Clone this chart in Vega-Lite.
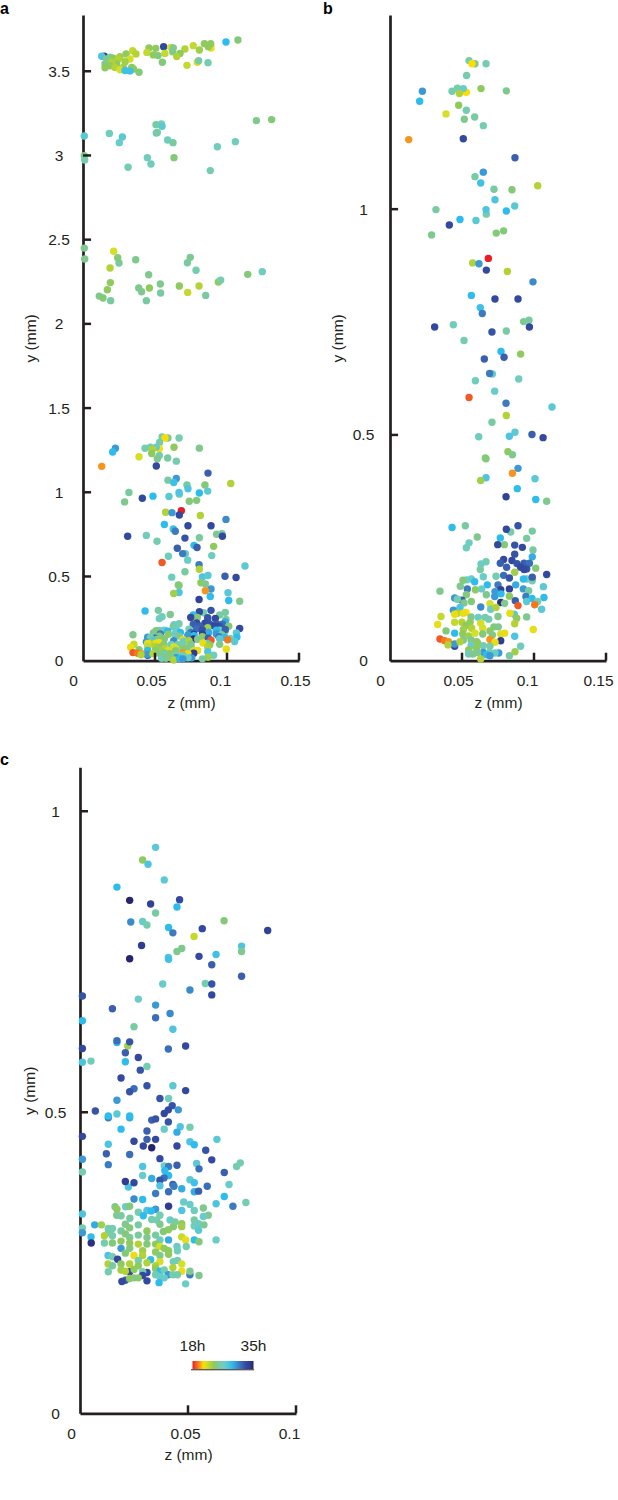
{
  "$schema": "https://vega.github.io/schema/vega-lite/v6.json",
  "padding": {"left": 0, "top": 1, "right": 12, "bottom": 0},
  "datasets": {
    "panel_b": [
      {"z":0.0549,"y":1.329,"t":26},{"z":0.0590,"y":1.322,"t":25},{"z":0.0667,"y":1.322,"t":26},{"z":0.0569,"y":1.322,"t":21},{"z":0.0532,"y":1.296,"t":26},{"z":0.0225,"y":1.261,"t":30},{"z":0.0206,"y":1.239,"t":29},{"z":0.0431,"y":1.261,"t":26},{"z":0.0530,"y":1.259,"t":21},{"z":0.0468,"y":1.268,"t":26},{"z":0.0509,"y":1.267,"t":27},{"z":0.0482,"y":1.256,"t":23},{"z":0.0632,"y":1.267,"t":24},{"z":0.0808,"y":1.262,"t":25},{"z":0.0477,"y":1.230,"t":24},{"z":0.0530,"y":1.219,"t":26},{"z":0.0389,"y":1.211,"t":22},{"z":0.0516,"y":1.199,"t":25},{"z":0.0588,"y":1.204,"t":25.5},{"z":0.0648,"y":1.185,"t":26},
      {"z":0.0130,"y":1.154,"t":20},{"z":0.0509,"y":1.156,"t":33},{"z":0.0868,"y":1.114,"t":32},{"z":0.0648,"y":1.082,"t":30},{"z":0.0590,"y":1.072,"t":25.5},{"z":0.0630,"y":1.058,"t":28.5},{"z":0.0722,"y":1.044,"t":25.5},{"z":0.0847,"y":1.043,"t":24.5},{"z":0.1026,"y":1.052,"t":23},{"z":0.0729,"y":1.021,"t":28},{"z":0.0866,"y":1.007,"t":27.5},{"z":0.0319,"y":0.999,"t":25.5},{"z":0.0669,"y":0.989,"t":26},{"z":0.0667,"y":0.999,"t":28},{"z":0.0808,"y":0.996,"t":29},{"z":0.0486,"y":0.977,"t":29},{"z":0.0597,"y":0.975,"t":27.5},{"z":0.0412,"y":0.965,"t":33},{"z":0.0289,"y":0.943,"t":25},{"z":0.0738,"y":0.947,"t":24.5},{"z":0.0789,"y":0.952,"t":24.5},
      {"z":0.0574,"y":0.881,"t":23},{"z":0.0618,"y":0.879,"t":30},{"z":0.0683,"y":0.891,"t":18},{"z":0.0669,"y":0.865,"t":33},{"z":0.0815,"y":0.862,"t":23},{"z":0.0993,"y":0.839,"t":30.5},{"z":0.0565,"y":0.809,"t":29},{"z":0.0729,"y":0.801,"t":33},{"z":0.0889,"y":0.801,"t":33},{"z":0.0627,"y":0.782,"t":28.5},{"z":0.0641,"y":0.769,"t":31},{"z":0.0310,"y":0.739,"t":33},{"z":0.0440,"y":0.744,"t":26.5},{"z":0.0928,"y":0.751,"t":25},{"z":0.0965,"y":0.754,"t":25.5},{"z":0.0968,"y":0.739,"t":33},{"z":0.0708,"y":0.728,"t":32.5},{"z":0.0808,"y":0.730,"t":25.5},{"z":0.0514,"y":0.709,"t":26},{"z":0.0771,"y":0.685,"t":29},{"z":0.0907,"y":0.679,"t":24},{"z":0.0655,"y":0.668,"t":32},{"z":0.0792,"y":0.672,"t":32},
      {"z":0.0711,"y":0.635,"t":27},{"z":0.0692,"y":0.636,"t":31},{"z":0.0593,"y":0.620,"t":26.5},{"z":0.0894,"y":0.624,"t":26.5},{"z":0.0727,"y":0.597,"t":27},{"z":0.0549,"y":0.583,"t":19},{"z":0.0806,"y":0.570,"t":31},{"z":0.1125,"y":0.562,"t":27.5},{"z":0.0808,"y":0.543,"t":23},{"z":0.0708,"y":0.528,"t":25.5},{"z":0.0616,"y":0.496,"t":26.5},{"z":0.0829,"y":0.497,"t":28},{"z":0.0868,"y":0.506,"t":27.5},{"z":0.0986,"y":0.501,"t":32},{"z":0.1063,"y":0.494,"t":33},{"z":0.0819,"y":0.463,"t":24},{"z":0.0850,"y":0.456,"t":25},{"z":0.0662,"y":0.449,"t":24.5},{"z":0.0667,"y":0.447,"t":24.5},{"z":0.0889,"y":0.426,"t":30},{"z":0.0850,"y":0.415,"t":20},{"z":0.0667,"y":0.405,"t":28},{"z":0.0630,"y":0.399,"t":23.5},{"z":0.1007,"y":0.403,"t":27.5},{"z":0.0884,"y":0.381,"t":29},{"z":0.0806,"y":0.363,"t":33.5},{"z":0.1012,"y":0.357,"t":29},{"z":0.1088,"y":0.353,"t":25},
      {"z":0.0431,"y":0.295,"t":29},{"z":0.0523,"y":0.299,"t":25.5},{"z":0.0889,"y":0.299,"t":32.5},{"z":0.0838,"y":0.285,"t":26},{"z":0.0808,"y":0.291,"t":33},{"z":0.0988,"y":0.287,"t":25.5},{"z":0.0606,"y":0.274,"t":25},{"z":0.0949,"y":0.271,"t":25.5},{"z":0.0766,"y":0.272,"t":29},{"z":0.0549,"y":0.261,"t":26.5},{"z":0.0530,"y":0.250,"t":26.5},{"z":0.0794,"y":0.257,"t":24.5},{"z":0.0748,"y":0.257,"t":33},{"z":0.0866,"y":0.256,"t":32.5},{"z":0.0919,"y":0.251,"t":33},{"z":0.0993,"y":0.245,"t":25.5},{"z":0.0866,"y":0.236,"t":32.5},{"z":0.0988,"y":0.230,"t":29.5},{"z":0.0789,"y":0.224,"t":33},{"z":0.0847,"y":0.222,"t":33},{"z":0.0766,"y":0.216,"t":32},{"z":0.0667,"y":0.219,"t":26},{"z":0.0632,"y":0.214,"t":27},{"z":0.0627,"y":0.202,"t":25.5},{"z":0.0882,"y":0.215,"t":32.5},{"z":0.0931,"y":0.216,"t":32},{"z":0.0968,"y":0.216,"t":31.5},{"z":0.0810,"y":0.207,"t":32},{"z":0.0907,"y":0.207,"t":33},{"z":0.0949,"y":0.203,"t":32.5},{"z":0.0931,"y":0.202,"t":33},{"z":0.1012,"y":0.205,"t":24.5},{"z":0.0866,"y":0.196,"t":23.5},{"z":0.1088,"y":0.191,"t":33},{"z":0.0736,"y":0.187,"t":26},{"z":0.0789,"y":0.189,"t":31.5},{"z":0.0829,"y":0.183,"t":32.5},
      {"z":0.0988,"y":0.177,"t":26},{"z":0.0949,"y":0.181,"t":27},{"z":0.0926,"y":0.181,"t":29},{"z":0.0988,"y":0.185,"t":32},{"z":0.0648,"y":0.186,"t":27},{"z":0.0565,"y":0.181,"t":27},{"z":0.0532,"y":0.179,"t":27},{"z":0.0507,"y":0.178,"t":24.5},{"z":0.0588,"y":0.175,"t":29},{"z":0.0488,"y":0.165,"t":25},{"z":0.0676,"y":0.168,"t":29},{"z":0.0873,"y":0.168,"t":29.5},{"z":0.0750,"y":0.168,"t":31},{"z":0.1065,"y":0.164,"t":27.5},{"z":0.0347,"y":0.154,"t":25},{"z":0.0537,"y":0.159,"t":31},{"z":0.0593,"y":0.157,"t":24},{"z":0.0637,"y":0.159,"t":27},{"z":0.0769,"y":0.157,"t":33.5},{"z":0.0829,"y":0.159,"t":33.5},{"z":0.0926,"y":0.159,"t":30},{"z":0.0963,"y":0.155,"t":25.5},{"z":0.0729,"y":0.153,"t":30},{"z":0.0771,"y":0.148,"t":29},{"z":0.0669,"y":0.146,"t":25},{"z":0.0530,"y":0.146,"t":24.5},{"z":0.0829,"y":0.143,"t":24},{"z":0.0944,"y":0.142,"t":31},{"z":0.0449,"y":0.139,"t":30},{"z":0.0500,"y":0.134,"t":32},{"z":0.0468,"y":0.136,"t":26},{"z":0.0565,"y":0.131,"t":24.5},{"z":0.0727,"y":0.142,"t":30},{"z":0.0870,"y":0.133,"t":32},{"z":0.0986,"y":0.138,"t":29},{"z":0.1069,"y":0.140,"t":29},{"z":0.1025,"y":0.131,"t":26},{"z":0.0769,"y":0.129,"t":34.5},{"z":0.0949,"y":0.131,"t":27.5},{"z":0.0514,"y":0.128,"t":25},{"z":0.0694,"y":0.126,"t":22},{"z":0.0889,"y":0.122,"t":19},{"z":0.1005,"y":0.124,"t":19.5},{"z":0.0630,"y":0.119,"t":30.5},{"z":0.0486,"y":0.118,"t":28},{"z":0.0440,"y":0.112,"t":30},{"z":0.0796,"y":0.127,"t":25},{"z":0.0699,"y":0.114,"t":27},{"z":0.0736,"y":0.118,"t":23},{"z":0.1053,"y":0.114,"t":27.5},
      {"z":0.0468,"y":0.105,"t":23},{"z":0.0528,"y":0.107,"t":21},{"z":0.0449,"y":0.103,"t":21.5},{"z":0.0509,"y":0.105,"t":21.5},{"z":0.0660,"y":0.096,"t":26},{"z":0.0685,"y":0.092,"t":26},{"z":0.0750,"y":0.098,"t":25},{"z":0.0863,"y":0.103,"t":27.5},{"z":0.0833,"y":0.105,"t":21.5},{"z":0.0949,"y":0.097,"t":25},{"z":0.0880,"y":0.094,"t":24},{"z":0.0354,"y":0.098,"t":22.5},{"z":0.0563,"y":0.097,"t":25},{"z":0.0613,"y":0.096,"t":27},{"z":0.0500,"y":0.085,"t":23},{"z":0.0449,"y":0.085,"t":22.5},{"z":0.0556,"y":0.085,"t":24},{"z":0.0331,"y":0.080,"t":21.5},{"z":0.0630,"y":0.083,"t":22},{"z":0.0866,"y":0.082,"t":23},{"z":0.0389,"y":0.066,"t":24.5},{"z":0.0528,"y":0.078,"t":24},{"z":0.0509,"y":0.069,"t":23.5},{"z":0.0567,"y":0.072,"t":23},{"z":0.0644,"y":0.072,"t":22},{"z":0.0722,"y":0.075,"t":24.5},{"z":0.0752,"y":0.075,"t":25},{"z":0.0694,"y":0.066,"t":24},{"z":0.0995,"y":0.069,"t":21.5},{"z":0.0449,"y":0.061,"t":29},{"z":0.0505,"y":0.059,"t":24},{"z":0.0546,"y":0.055,"t":23.5},{"z":0.0590,"y":0.061,"t":22},{"z":0.0644,"y":0.059,"t":24.5},{"z":0.0769,"y":0.059,"t":22},{"z":0.0796,"y":0.061,"t":21.5},{"z":0.0711,"y":0.057,"t":25},{"z":0.0866,"y":0.054,"t":28},{"z":0.0347,"y":0.048,"t":19},{"z":0.0380,"y":0.044,"t":19.5},{"z":0.0407,"y":0.042,"t":20},{"z":0.0694,"y":0.047,"t":20},{"z":0.0769,"y":0.044,"t":34},{"z":0.0509,"y":0.046,"t":25},{"z":0.0563,"y":0.046,"t":25},{"z":0.0602,"y":0.042,"t":24.5},{"z":0.0449,"y":0.032,"t":33},{"z":0.0449,"y":0.037,"t":30},{"z":0.0403,"y":0.035,"t":23},{"z":0.0563,"y":0.033,"t":27},{"z":0.0609,"y":0.039,"t":24},{"z":0.0729,"y":0.041,"t":21.5},{"z":0.0694,"y":0.032,"t":26},{"z":0.0648,"y":0.033,"t":26},{"z":0.0907,"y":0.032,"t":26.5},{"z":0.0486,"y":0.042,"t":23},{"z":0.0602,"y":0.027,"t":24},{"z":0.0546,"y":0.024,"t":24},{"z":0.0868,"y":0.020,"t":23.5},{"z":0.0755,"y":0.017,"t":30},{"z":0.0729,"y":0.017,"t":27},{"z":0.0648,"y":0.018,"t":30},{"z":0.0690,"y":0.018,"t":26},{"z":0.0546,"y":0.015,"t":27},{"z":0.0576,"y":0.015,"t":25},{"z":0.0609,"y":0.018,"t":25},{"z":0.0829,"y":0.011,"t":25.5},{"z":0.0630,"y":0.004,"t":23},{"z":0.0671,"y":0.013,"t":29},{"z":0.0694,"y":0.011,"t":30}
    ],
    "panel_a_upper": [
      {"z":0.1076,"y":3.686,"t":24.5},{"z":0.0993,"y":3.674,"t":29},{"z":0.0560,"y":3.646,"t":33},{"z":0.0889,"y":3.638,"t":21.5},{"z":0.0887,"y":3.664,"t":24},{"z":0.0843,"y":3.664,"t":24},{"z":0.0766,"y":3.652,"t":22.5},{"z":0.0870,"y":3.646,"t":24},{"z":0.0808,"y":3.626,"t":23.5},{"z":0.0708,"y":3.632,"t":23},{"z":0.0609,"y":3.642,"t":22},{"z":0.0627,"y":3.638,"t":25},{"z":0.0458,"y":3.638,"t":24},{"z":0.0505,"y":3.636,"t":24},{"z":0.0569,"y":3.606,"t":22.5},{"z":0.0623,"y":3.616,"t":25},{"z":0.0674,"y":3.606,"t":24},{"z":0.0651,"y":3.587,"t":23},{"z":0.0444,"y":3.612,"t":22.5},{"z":0.0488,"y":3.597,"t":24},{"z":0.0521,"y":3.593,"t":24.5},{"z":0.0551,"y":3.553,"t":24.5},{"z":0.0722,"y":3.535,"t":22.5},{"z":0.0794,"y":3.553,"t":22},{"z":0.0803,"y":3.563,"t":25.5},{"z":0.0868,"y":3.551,"t":26},
      {"z":0.0148,"y":3.589,"t":34},{"z":0.0130,"y":3.589,"t":28},{"z":0.0188,"y":3.583,"t":26},{"z":0.0345,"y":3.622,"t":22.5},{"z":0.0368,"y":3.603,"t":23},{"z":0.0299,"y":3.603,"t":24},{"z":0.0257,"y":3.587,"t":23.5},{"z":0.0164,"y":3.573,"t":25},{"z":0.0211,"y":3.577,"t":24},{"z":0.0245,"y":3.573,"t":23},{"z":0.0326,"y":3.573,"t":22},{"z":0.0292,"y":3.557,"t":23.5},{"z":0.0153,"y":3.543,"t":25},{"z":0.0234,"y":3.543,"t":24},{"z":0.0199,"y":3.553,"t":23},{"z":0.0188,"y":3.533,"t":24},{"z":0.0153,"y":3.521,"t":24},{"z":0.0222,"y":3.523,"t":23},{"z":0.0280,"y":3.523,"t":23.5},{"z":0.0338,"y":3.523,"t":24},{"z":0.0350,"y":3.513,"t":24},{"z":0.0257,"y":3.509,"t":22},{"z":0.0292,"y":3.504,"t":28.5},{"z":0.0326,"y":3.502,"t":28.5},{"z":0.0389,"y":3.494,"t":24.5},
      {"z":0.1310,"y":3.213,"t":24.5},{"z":0.1204,"y":3.207,"t":25},{"z":0.0009,"y":3.116,"t":27.5},{"z":0.0183,"y":3.131,"t":26.5},{"z":0.0273,"y":3.110,"t":27.5},{"z":0.0252,"y":3.076,"t":27},{"z":0.0507,"y":3.183,"t":25.5},{"z":0.0544,"y":3.187,"t":26},{"z":0.0549,"y":3.173,"t":27.5},{"z":0.0509,"y":3.133,"t":27},{"z":0.0516,"y":3.137,"t":25.5},{"z":0.0588,"y":3.092,"t":26.5},{"z":0.0625,"y":3.076,"t":25.5},{"z":0.0933,"y":3.052,"t":26.5},{"z":0.1058,"y":3.082,"t":26.5},{"z":0.0009,"y":2.999,"t":25},{"z":0.0012,"y":2.973,"t":26},{"z":0.0447,"y":2.987,"t":26.5},{"z":0.0472,"y":2.949,"t":26.5},{"z":0.0632,"y":2.987,"t":24.5},{"z":0.0313,"y":2.930,"t":26},{"z":0.0884,"y":2.910,"t":26},
      {"z":0.0009,"y":2.450,"t":25},{"z":0.0213,"y":2.431,"t":22},{"z":0.0012,"y":2.385,"t":25},{"z":0.0250,"y":2.361,"t":25.5},{"z":0.0241,"y":2.393,"t":24.5},{"z":0.0366,"y":2.381,"t":25},{"z":0.0725,"y":2.363,"t":25.5},{"z":0.0745,"y":2.395,"t":25},{"z":0.0188,"y":2.332,"t":23},{"z":0.0785,"y":2.318,"t":26},{"z":0.0456,"y":2.292,"t":25},{"z":0.1144,"y":2.294,"t":24.5},{"z":0.1245,"y":2.310,"t":26.5},{"z":0.0940,"y":2.249,"t":24},{"z":0.0956,"y":2.260,"t":26},{"z":0.0190,"y":2.245,"t":24},{"z":0.0537,"y":2.237,"t":25},{"z":0.0669,"y":2.225,"t":24},{"z":0.0806,"y":2.225,"t":23},{"z":0.0387,"y":2.213,"t":25},{"z":0.0461,"y":2.213,"t":24},{"z":0.0169,"y":2.203,"t":24},{"z":0.0407,"y":2.191,"t":25},{"z":0.0539,"y":2.183,"t":25.5},{"z":0.0727,"y":2.187,"t":22.5},{"z":0.0852,"y":2.169,"t":25.5},{"z":0.0113,"y":2.165,"t":25},{"z":0.0139,"y":2.154,"t":24.5},{"z":0.0192,"y":2.138,"t":25.5},{"z":0.0440,"y":2.138,"t":25.5}
    ],
    "panel_c": [
      {"z":0.0350,"y":0.940,"t":27.5},{"z":0.0290,"y":0.919,"t":24},{"z":0.0315,"y":0.912,"t":28},{"z":0.0390,"y":0.886,"t":27.5},{"z":0.0171,"y":0.874,"t":29},{"z":0.0230,"y":0.852,"t":35},{"z":0.0327,"y":0.846,"t":33.5},{"z":0.0461,"y":0.853,"t":33},{"z":0.0449,"y":0.841,"t":29},{"z":0.0350,"y":0.831,"t":25.5},{"z":0.0235,"y":0.816,"t":30.5},{"z":0.0290,"y":0.817,"t":27},{"z":0.0310,"y":0.811,"t":26},{"z":0.0410,"y":0.807,"t":29},{"z":0.0430,"y":0.798,"t":31},{"z":0.0566,"y":0.805,"t":33},{"z":0.0667,"y":0.818,"t":24.5},{"z":0.0869,"y":0.802,"t":33.5},{"z":0.0528,"y":0.792,"t":22.5},{"z":0.0285,"y":0.777,"t":34},{"z":0.0471,"y":0.772,"t":25},{"z":0.0449,"y":0.767,"t":25},{"z":0.0748,"y":0.776,"t":28},{"z":0.0748,"y":0.767,"t":25},{"z":0.0409,"y":0.757,"t":28},{"z":0.0410,"y":0.754,"t":28.5},{"z":0.0230,"y":0.755,"t":35},{"z":0.0551,"y":0.759,"t":33},{"z":0.0630,"y":0.762,"t":28.5},{"z":0.0610,"y":0.745,"t":32},{"z":0.0383,"y":0.713,"t":27},{"z":0.0580,"y":0.714,"t":26},{"z":0.0610,"y":0.713,"t":32.5},{"z":0.0509,"y":0.703,"t":30.5},{"z":0.0610,"y":0.695,"t":33},{"z":0.0748,"y":0.726,"t":32},
      {"z":0.0011,"y":0.693,"t":32.5},{"z":0.0270,"y":0.688,"t":27},{"z":0.0350,"y":0.678,"t":30},{"z":0.0150,"y":0.672,"t":32},{"z":0.0417,"y":0.664,"t":30.5},{"z":0.0350,"y":0.657,"t":31.5},{"z":0.0011,"y":0.652,"t":29},{"z":0.0250,"y":0.642,"t":25.5},{"z":0.0430,"y":0.638,"t":28},{"z":0.0171,"y":0.616,"t":29},{"z":0.0171,"y":0.619,"t":31.5},{"z":0.0221,"y":0.610,"t":23.5},{"z":0.0230,"y":0.617,"t":32.5},{"z":0.0011,"y":0.606,"t":33},{"z":0.0489,"y":0.610,"t":33},{"z":0.0409,"y":0.605,"t":31.5},{"z":0.0210,"y":0.599,"t":32},{"z":0.0270,"y":0.591,"t":33},{"z":0.0011,"y":0.583,"t":28},{"z":0.0051,"y":0.585,"t":26.5},{"z":0.0210,"y":0.584,"t":29},{"z":0.0310,"y":0.576,"t":26},{"z":0.0279,"y":0.570,"t":32.5},{"z":0.0190,"y":0.557,"t":33},{"z":0.0310,"y":0.544,"t":32.5},{"z":0.0430,"y":0.544,"t":27.5},{"z":0.0250,"y":0.539,"t":31.5},{"z":0.0230,"y":0.534,"t":32.5},{"z":0.0489,"y":0.536,"t":33},{"z":0.0171,"y":0.520,"t":30},{"z":0.0370,"y":0.523,"t":32.5},{"z":0.0410,"y":0.523,"t":26.5},{"z":0.0427,"y":0.511,"t":32.5},{"z":0.0409,"y":0.504,"t":33},{"z":0.0390,"y":0.498,"t":33},{"z":0.0455,"y":0.504,"t":30},{"z":0.0071,"y":0.502,"t":32.5},{"z":0.0131,"y":0.491,"t":31},{"z":0.0131,"y":0.494,"t":29},{"z":0.0171,"y":0.497,"t":27.5},{"z":0.0230,"y":0.491,"t":29.5},{"z":0.0230,"y":0.494,"t":29},{"z":0.0332,"y":0.487,"t":32},{"z":0.0350,"y":0.489,"t":32.5},{"z":0.0409,"y":0.484,"t":32.5},{"z":0.0190,"y":0.472,"t":29},{"z":0.0310,"y":0.469,"t":32},{"z":0.0390,"y":0.472,"t":27},{"z":0.0464,"y":0.476,"t":28},{"z":0.0509,"y":0.475,"t":26},
      {"z":0.0011,"y":0.460,"t":33},{"z":0.0449,"y":0.467,"t":29.5},{"z":0.0250,"y":0.452,"t":33},{"z":0.0310,"y":0.455,"t":32},{"z":0.0350,"y":0.455,"t":33},{"z":0.0131,"y":0.447,"t":28},{"z":0.0293,"y":0.444,"t":33},{"z":0.0332,"y":0.441,"t":35},{"z":0.0449,"y":0.444,"t":33},{"z":0.0509,"y":0.451,"t":28},{"z":0.0529,"y":0.446,"t":29},{"z":0.0634,"y":0.455,"t":27.5},{"z":0.0582,"y":0.437,"t":32.5},{"z":0.0122,"y":0.431,"t":32},{"z":0.0230,"y":0.430,"t":31.5},{"z":0.0011,"y":0.422,"t":30},{"z":0.0370,"y":0.423,"t":33},{"z":0.0610,"y":0.421,"t":33},{"z":0.0131,"y":0.413,"t":31},{"z":0.0290,"y":0.410,"t":28},{"z":0.0390,"y":0.411,"t":27},{"z":0.0410,"y":0.410,"t":31},{"z":0.0449,"y":0.412,"t":32},{"z":0.0540,"y":0.415,"t":27.5},{"z":0.0551,"y":0.406,"t":31.5},{"z":0.0742,"y":0.416,"t":26},{"z":0.0725,"y":0.410,"t":26},{"z":0.0393,"y":0.403,"t":29},{"z":0.0011,"y":0.401,"t":26},{"z":0.0290,"y":0.395,"t":27},{"z":0.0410,"y":0.395,"t":29},{"z":0.0668,"y":0.400,"t":32},{"z":0.0389,"y":0.391,"t":31.5},{"z":0.0332,"y":0.390,"t":29.5},{"z":0.0370,"y":0.387,"t":32.5},{"z":0.0224,"y":0.376,"t":28},{"z":0.0210,"y":0.385,"t":34},{"z":0.0250,"y":0.383,"t":33},{"z":0.0509,"y":0.388,"t":27.5},{"z":0.0529,"y":0.383,"t":28.5},{"z":0.0690,"y":0.380,"t":27},{"z":0.0370,"y":0.378,"t":28},{"z":0.0430,"y":0.380,"t":32},{"z":0.0435,"y":0.377,"t":31},{"z":0.0471,"y":0.373,"t":29.5},{"z":0.0589,"y":0.377,"t":31.5},{"z":0.0350,"y":0.365,"t":31},{"z":0.0410,"y":0.368,"t":31.5},{"z":0.0529,"y":0.368,"t":29.5},{"z":0.0549,"y":0.369,"t":32},{"z":0.0668,"y":0.360,"t":29},{"z":0.0250,"y":0.356,"t":30.5},{"z":0.0290,"y":0.355,"t":29},{"z":0.0630,"y":0.348,"t":28},{"z":0.0768,"y":0.350,"t":26},{"z":0.0708,"y":0.344,"t":31},{"z":0.0410,"y":0.344,"t":34},{"z":0.0480,"y":0.351,"t":27},{"z":0.0509,"y":0.347,"t":27},
      {"z":0.0471,"y":0.337,"t":28},{"z":0.0529,"y":0.337,"t":26.5},{"z":0.0211,"y":0.343,"t":27},{"z":0.0230,"y":0.344,"t":24.5},{"z":0.0162,"y":0.343,"t":25},{"z":0.0171,"y":0.339,"t":24},{"z":0.0310,"y":0.337,"t":28},{"z":0.0350,"y":0.339,"t":30},{"z":0.0330,"y":0.336,"t":29},{"z":0.0270,"y":0.334,"t":26},{"z":0.0571,"y":0.341,"t":25},{"z":0.0293,"y":0.328,"t":29},{"z":0.0170,"y":0.329,"t":25},{"z":0.0190,"y":0.328,"t":25.5},{"z":0.0370,"y":0.329,"t":26},{"z":0.0011,"y":0.331,"t":28},{"z":0.0594,"y":0.329,"t":25},{"z":0.0571,"y":0.327,"t":27},{"z":0.0529,"y":0.321,"t":25.5},{"z":0.0231,"y":0.324,"t":25.5},{"z":0.0332,"y":0.322,"t":26},{"z":0.0355,"y":0.321,"t":26},{"z":0.0417,"y":0.321,"t":27},{"z":0.0440,"y":0.318,"t":25.5},{"z":0.0471,"y":0.315,"t":24},{"z":0.0210,"y":0.314,"t":25},{"z":0.0270,"y":0.313,"t":25.5},{"z":0.0549,"y":0.315,"t":27},{"z":0.0574,"y":0.313,"t":25},{"z":0.0370,"y":0.314,"t":25},{"z":0.0068,"y":0.313,"t":29.5},{"z":0.0099,"y":0.313,"t":23.5},{"z":0.0011,"y":0.308,"t":26},{"z":0.0131,"y":0.307,"t":26},{"z":0.0150,"y":0.307,"t":26},{"z":0.0190,"y":0.303,"t":25.5},{"z":0.0230,"y":0.308,"t":24.5},{"z":0.0310,"y":0.303,"t":24},{"z":0.0432,"y":0.310,"t":24.5},{"z":0.0409,"y":0.305,"t":24},{"z":0.0386,"y":0.302,"t":24.5},{"z":0.0471,"y":0.310,"t":23.5},{"z":0.0529,"y":0.311,"t":26.5},{"z":0.0549,"y":0.304,"t":27.5},{"z":0.0011,"y":0.300,"t":30},{"z":0.0131,"y":0.300,"t":26},{"z":0.0150,"y":0.295,"t":26},{"z":0.0210,"y":0.298,"t":24.5},{"z":0.0270,"y":0.296,"t":25.5},{"z":0.0230,"y":0.292,"t":25},{"z":0.0113,"y":0.295,"t":23},{"z":0.0051,"y":0.293,"t":29},{"z":0.0310,"y":0.292,"t":25},{"z":0.0350,"y":0.296,"t":25.5},{"z":0.0471,"y":0.293,"t":22.5},{"z":0.0370,"y":0.288,"t":26.5},{"z":0.0410,"y":0.288,"t":29.5},{"z":0.0489,"y":0.288,"t":21.5},{"z":0.0529,"y":0.288,"t":29},{"z":0.0551,"y":0.285,"t":24.5},{"z":0.0630,"y":0.288,"t":27},{"z":0.0052,"y":0.283,"t":34.5},{"z":0.0113,"y":0.283,"t":26},{"z":0.0150,"y":0.283,"t":24.5},{"z":0.0190,"y":0.286,"t":24},{"z":0.0230,"y":0.283,"t":24},{"z":0.0270,"y":0.281,"t":23},{"z":0.0310,"y":0.281,"t":24.5},{"z":0.0350,"y":0.281,"t":24},
      {"z":0.0492,"y":0.277,"t":26},{"z":0.0449,"y":0.277,"t":27},{"z":0.0190,"y":0.274,"t":30},{"z":0.0230,"y":0.274,"t":24.5},{"z":0.0370,"y":0.277,"t":22},{"z":0.0390,"y":0.274,"t":24},{"z":0.0410,"y":0.270,"t":24},{"z":0.0451,"y":0.270,"t":26.5},{"z":0.0290,"y":0.270,"t":23.5},{"z":0.0350,"y":0.268,"t":24},{"z":0.0210,"y":0.266,"t":24.5},{"z":0.0130,"y":0.262,"t":28},{"z":0.0150,"y":0.260,"t":26},{"z":0.0250,"y":0.262,"t":21.5},{"z":0.0290,"y":0.262,"t":23},{"z":0.0370,"y":0.262,"t":25},{"z":0.0410,"y":0.264,"t":24},{"z":0.0174,"y":0.256,"t":33},{"z":0.0270,"y":0.254,"t":26},{"z":0.0327,"y":0.255,"t":29},{"z":0.0370,"y":0.252,"t":22},{"z":0.0310,"y":0.250,"t":23},{"z":0.0432,"y":0.252,"t":26},{"z":0.0451,"y":0.254,"t":26.5},{"z":0.0130,"y":0.248,"t":23},{"z":0.0150,"y":0.245,"t":25.5},{"z":0.0190,"y":0.248,"t":24},{"z":0.0230,"y":0.248,"t":23},{"z":0.0270,"y":0.245,"t":24},{"z":0.0350,"y":0.245,"t":23},{"z":0.0471,"y":0.248,"t":22},{"z":0.0430,"y":0.242,"t":23},{"z":0.0230,"y":0.235,"t":33},{"z":0.0310,"y":0.234,"t":33},{"z":0.0190,"y":0.238,"t":23.5},{"z":0.0210,"y":0.236,"t":23},{"z":0.0250,"y":0.239,"t":24},{"z":0.0290,"y":0.235,"t":26},{"z":0.0350,"y":0.240,"t":24},{"z":0.0131,"y":0.235,"t":26},{"z":0.0370,"y":0.236,"t":29},{"z":0.0390,"y":0.238,"t":26},{"z":0.0509,"y":0.230,"t":31},{"z":0.0471,"y":0.236,"t":21.5},{"z":0.0509,"y":0.236,"t":25},{"z":0.0551,"y":0.229,"t":25},{"z":0.0409,"y":0.230,"t":30},{"z":0.0430,"y":0.230,"t":26},{"z":0.0451,"y":0.230,"t":26},{"z":0.0350,"y":0.230,"t":26},{"z":0.0370,"y":0.227,"t":27},{"z":0.0290,"y":0.229,"t":33},{"z":0.0270,"y":0.225,"t":24},{"z":0.0250,"y":0.225,"t":25},{"z":0.0210,"y":0.221,"t":32},{"z":0.0194,"y":0.219,"t":33},{"z":0.0310,"y":0.220,"t":33},{"z":0.0230,"y":0.224,"t":24},{"z":0.0390,"y":0.225,"t":27},{"z":0.0366,"y":0.217,"t":29},{"z":0.0489,"y":0.215,"t":27}
    ],
    "bar_edge": [{"z": 0.0514, "z2": 0.0806, "y": 0.0723}],
    "ticks_a_y": [{"z":0,"z2":0.0056,"y":0.5},{"z":0,"z2":0.0056,"y":1},{"z":0,"z2":0.0056,"y":1.5},{"z":0,"z2":0.0056,"y":2},{"z":0,"z2":0.0056,"y":2.5},{"z":0,"z2":0.0056,"y":3},{"z":0,"z2":0.0056,"y":3.5}],
    "ticks_a_x": [{"z":0.05,"y":0,"y2":0.0475},{"z":0.1,"y":0,"y2":0.0475},{"z":0.15,"y":0,"y2":0.0475}],
    "ticks_b_y": [{"z":0,"z2":0.0056,"y":0.5},{"z":0,"z2":0.0056,"y":1}],
    "ticks_b_x": [{"z":0.05,"y":0,"y2":0.0177},{"z":0.1,"y":0,"y2":0.0177},{"z":0.15,"y":0,"y2":0.0177}],
    "ticks_c_y": [{"z":0,"z2":0.0037,"y":0.5},{"z":0,"z2":0.0037,"y":1}],
    "ticks_c_x": [{"z":0.05,"y":0,"y2":0.0133},{"z":0.1,"y":0,"y2":0.0133}]
  },
  "columns": 2,
  "spacing": {"row": 106.3, "column": 91},
  "bounds": "flush",
  "concat": [
    {
      "width": 216,
      "height": 645.7,
      "title": {"text": "a", "dx": -83, "offset": -2},
      "layer": [
        {"data": {"name": "panel_b"}, "mark": {"type": "circle", "size": 55, "opacity": 1}, "encoding": {
          "x": {"field": "z", "type": "quantitative", "scale": {"domain": [0, 0.15], "nice": false}, "axis": {"title": "z (mm)", "values": [0, 0.05, 0.1, 0.15], "format": "~g", "encoding": {"labels": {"dx": {"condition": [{"test": "datum.value === 0", "value": -10}, {"test": "datum.value === 0.1", "value": -7}], "value": -4}}}}},
          "y": {"field": "y", "type": "quantitative", "scale": {"domain": [0, 3.834], "nice": false}, "axis": {"title": "y (mm)", "titleX": -45, "values": [0, 0.5, 1, 1.5, 2, 2.5, 3, 3.5], "format": "~g", "labelPadding": 24.5}},
          "color": {"field": "t", "type": "quantitative", "legend": {"orient": "none", "direction": "horizontal", "legendX": 109.5, "legendY": 1346, "title": null, "values": [18, 35], "format": "d", "labelExpr": "datum.value + 'h'", "gradientLength": 61, "gradientThickness": 8, "labelOffset": -30, "labelFontSize": 15.5, "labelColor": "#231f20", "encoding": {"labels": {"align": {"value": "center"}}}}, "scale": {"domain": [18,19,20,21,22,23,24,25,26,27,28,29,30,31,32,33,34,35], "range": ["#ed1c24","#f15a22","#f7941d","#ffdd00","#d4df26","#b2d235","#8fca5d","#7fc98f","#75cdb0","#6accc8","#4fc4e0","#2dbcee","#3b9ad6","#3b7cc0","#3a5fae","#33499f","#2e3d91","#27246f"]}}
        }},
        {"data": {"name": "panel_a_upper"}, "mark": {"type": "circle", "size": 55, "opacity": 1}, "encoding": {
          "x": {"field": "z", "type": "quantitative", "scale": {"domain": [0, 0.15], "nice": false}},
          "y": {"field": "y", "type": "quantitative", "scale": {"domain": [0, 3.834], "nice": false}},
          "color": {"field": "t", "type": "quantitative"}
        }},
        {"data": {"name": "ticks_a_y"}, "mark": {"type": "rule", "color": "#231f20", "strokeWidth": 2.5}, "encoding": {
          "x": {"field": "z", "type": "quantitative", "scale": {"domain": [0, 0.15], "nice": false}},
          "x2": {"field": "z2"},
          "y": {"field": "y", "type": "quantitative", "scale": {"domain": [0, 3.834], "nice": false}}
        }},
        {"data": {"name": "ticks_a_x"}, "mark": {"type": "rule", "color": "#231f20", "strokeWidth": 2.5}, "encoding": {
          "x": {"field": "z", "type": "quantitative", "scale": {"domain": [0, 0.15], "nice": false}},
          "y": {"field": "y", "type": "quantitative", "scale": {"domain": [0, 3.834], "nice": false}},
          "y2": {"field": "y2"}
        }}
      ]
    },
    {
      "width": 216,
      "height": 645.7,
      "title": {"text": "b", "dx": -67, "offset": -2},
      "layer": [
        {"data": {"name": "panel_b"}, "mark": {"type": "circle", "size": 55, "opacity": 1}, "encoding": {
          "x": {"field": "z", "type": "quantitative", "scale": {"domain": [0, 0.15], "nice": false}, "axis": {"title": "z (mm)", "values": [0, 0.05, 0.1, 0.15], "format": "~g", "encoding": {"labels": {"dx": {"condition": [{"test": "datum.value === 0", "value": -10}, {"test": "datum.value === 0.1", "value": -7}, {"test": "datum.value === 0.15", "value": -8}], "value": -4}}}}},
          "y": {"field": "y", "type": "quantitative", "scale": {"domain": [0, 1.43], "nice": false}, "axis": {"title": "y (mm)", "titleX": -45, "values": [0, 0.5, 1], "format": "~g", "labelPadding": 27}},
          "color": {"field": "t", "type": "quantitative"}
        }},
        {"data": {"name": "ticks_b_y"}, "mark": {"type": "rule", "color": "#231f20", "strokeWidth": 2.5}, "encoding": {
          "x": {"field": "z", "type": "quantitative", "scale": {"domain": [0, 0.15], "nice": false}},
          "x2": {"field": "z2"},
          "y": {"field": "y", "type": "quantitative", "scale": {"domain": [0, 1.43], "nice": false}}
        }},
        {"data": {"name": "ticks_b_x"}, "mark": {"type": "rule", "color": "#231f20", "strokeWidth": 2.5}, "encoding": {
          "x": {"field": "z", "type": "quantitative", "scale": {"domain": [0, 0.15], "nice": false}},
          "y": {"field": "y", "type": "quantitative", "scale": {"domain": [0, 1.43], "nice": false}},
          "y2": {"field": "y2"}
        }}
      ]
    },
    {
      "width": 216,
      "height": 646,
      "title": {"text": "c", "dx": -83, "offset": -1},
      "layer": [
        {"data": {"name": "panel_c"}, "mark": {"type": "circle", "size": 55, "opacity": 1}, "encoding": {
          "x": {"field": "z", "type": "quantitative", "scale": {"domain": [0, 0.1], "nice": false, "range": [-3, 213]}, "axis": {"title": "z (mm)", "values": [0, 0.05, 0.1], "format": "~g", "encoding": {"labels": {"dx": {"condition": [{"test": "datum.value === 0", "value": -9}, {"test": "datum.value === 0.1", "value": -7}], "value": -3}}}}},
          "y": {"field": "y", "type": "quantitative", "scale": {"domain": [0, 1.073], "nice": false}, "axis": {"title": "y (mm)", "titleX": -43, "offset": 3, "values": [0, 0.5, 1], "format": "~g", "labelPadding": 25}},
          "color": {"field": "t", "type": "quantitative"}
        }},
        {"data": {"name": "ticks_c_y"}, "mark": {"type": "rule", "color": "#231f20", "strokeWidth": 2.5}, "encoding": {
          "x": {"field": "z", "type": "quantitative", "scale": {"domain": [0, 0.1], "nice": false, "range": [-3, 213]}},
          "x2": {"field": "z2"},
          "y": {"field": "y", "type": "quantitative", "scale": {"domain": [0, 1.073], "nice": false}}
        }},
        {"data": {"name": "ticks_c_x"}, "mark": {"type": "rule", "color": "#231f20", "strokeWidth": 2.5}, "encoding": {
          "x": {"field": "z", "type": "quantitative", "scale": {"domain": [0, 0.1], "nice": false, "range": [-3, 213]}},
          "y": {"field": "y", "type": "quantitative", "scale": {"domain": [0, 1.073], "nice": false}},
          "y2": {"field": "y2"}
        }},
        {"data": {"name": "bar_edge"}, "mark": {"type": "rule", "color": "#231f20", "strokeWidth": 1}, "encoding": {
          "x": {"field": "z", "type": "quantitative", "scale": {"domain": [0, 0.1], "nice": false, "range": [-3, 213]}},
          "x2": {"field": "z2"},
          "y": {"field": "y", "type": "quantitative", "scale": {"domain": [0, 1.073], "nice": false}}
        }}
      ]
    }
  ],
  "config": {
    "font": "Liberation Sans",
    "view": {"stroke": null},
    "title": {"anchor": "start", "frame": "group", "baseline": "alphabetic", "fontSize": 16, "fontWeight": "bold", "color": "#000000", "font": "Liberation Sans"},
    "axis": {
      "grid": false,
      "ticks": false,
      "tickSize": 0,
      "domainColor": "#231f20",
      "domainWidth": 2.7,
      "labelColor": "#231f20",
      "labelFontSize": 15.5,
      "labelFont": "Liberation Sans",
      "titleColor": "#231f20",
      "titleFontSize": 15.5,
      "titleFont": "Liberation Sans",
      "titleFontWeight": "normal"
    },
    "axisX": {"labelPadding": 13, "titlePadding": 6, "labelFlush": false, "labelOverlap": false},
    "axisY": {"labelAlign": "center", "labelOverlap": false}
  }
}
